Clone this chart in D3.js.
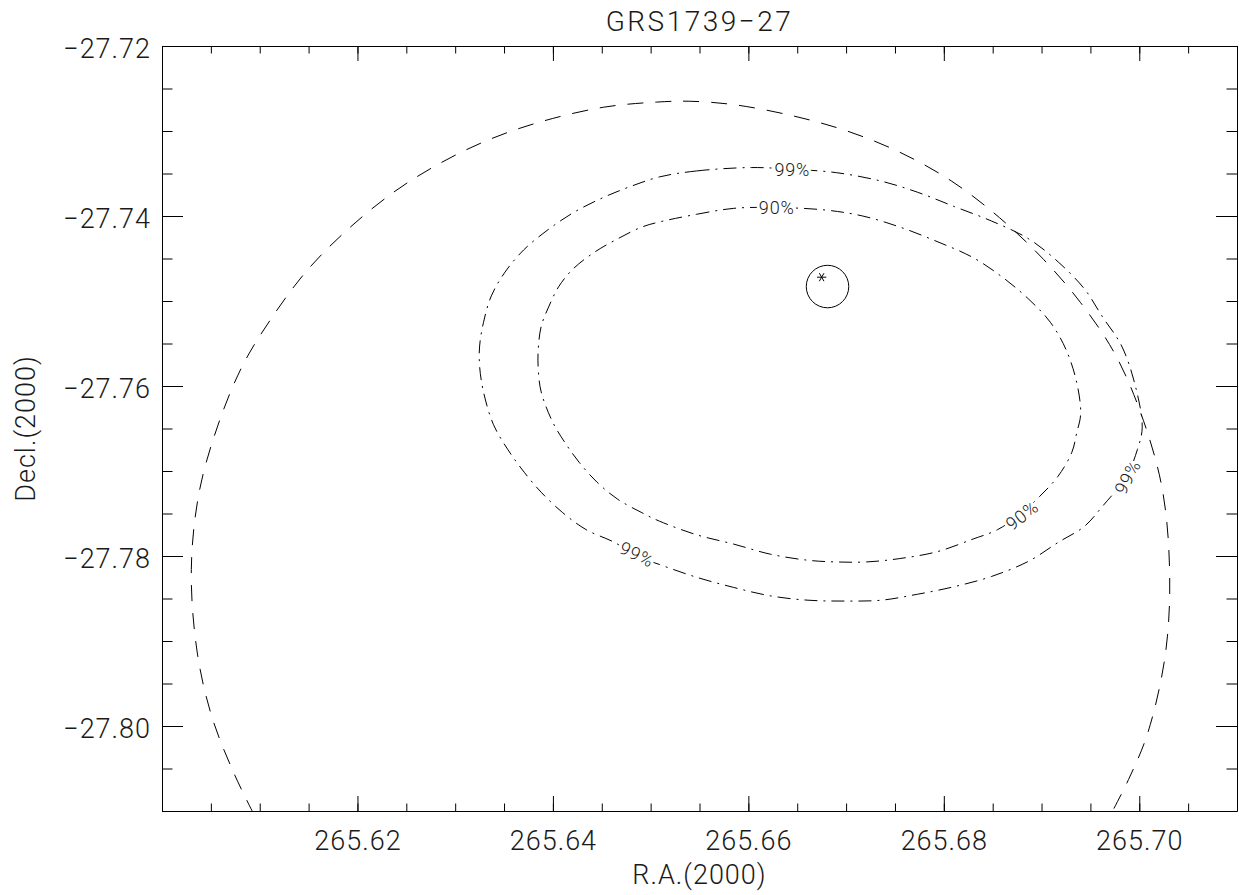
<!DOCTYPE html>
<html>
<head>
<meta charset="utf-8">
<script src="https://cdn.jsdelivr.net/npm/d3@7"></script>
<style>
  body { margin: 0; background: #fff; }
  text { font-family: Roboto, "DejaVu Sans", sans-serif; font-weight: 300; fill: #1a1a1a; }
  .big { font-size: 27px; letter-spacing: 1px; }
  .title { font-size: 28px; letter-spacing: 2.5px; }
  .clab { font-size: 18px; letter-spacing: 0.8px; }
</style>
</head>
<body>
<div id="graph"></div>
<script>
// tick labels
var raTicks = [265.62, 265.64, 265.66, 265.68, 265.70];
var decTicks = [-27.72, -27.74, -27.76, -27.78, -27.80];

// error region (dashed)
var errRA = [265.6094, 265.6073, 265.6051, 265.6036, 265.6030, 265.6038, 265.6057, 265.6082, 265.6111, 265.6147,
             265.6187, 265.6237, 265.6286, 265.6335, 265.6388, 265.6452, 265.6506, 265.6540, 265.6585, 265.6645,
             265.6701, 265.6755, 265.6808, 265.6857, 265.6902, 265.6940, 265.6974, 265.7000, 265.7023, 265.7031,
             265.7027, 265.7009, 265.6989, 265.6968];
var errDec = [-27.8104, -27.8054, -27.7989, -27.7913, -27.7816, -27.7725, -27.7647, -27.7577, -27.7522, -27.7466,
              -27.7419, -27.7372, -27.7337, -27.7310, -27.7289, -27.7272, -27.7266, -27.7265, -27.7269, -27.7282,
              -27.7300, -27.7325, -27.7359, -27.7402, -27.7451, -27.7502, -27.7560, -27.7627, -27.7718, -27.7816,
              -27.7913, -27.8007, -27.8063, -27.8110];

// 99% contour
var c99RA = [265.6509, 265.6547, 265.6603, 265.6645, 265.6690, 265.6736, 265.6773, 265.6811, 265.6849, 265.6887,
             265.6917, 265.6944, 265.6962, 265.6982, 265.6996, 265.7003, 265.6998, 265.6987, 265.6962, 265.6944,
             265.6917, 265.6887, 265.6849, 265.6811, 265.6773, 265.6736, 265.6698, 265.6661, 265.6623, 265.6585,
             265.6547, 265.6509, 265.6486, 265.6463, 265.6434, 265.6410, 265.6388, 265.6371, 265.6354, 265.6339,
             265.6329, 265.6325, 265.6325, 265.6329, 265.6337, 265.6351, 265.6370, 265.6394, 265.6421, 265.6452,
             265.6480];
var c99Dec = [-27.7354, -27.7347, -27.7343, -27.7345, -27.7349, -27.7359, -27.7372, -27.7389, -27.7406, -27.7427,
              -27.7454, -27.7486, -27.7518, -27.7553, -27.7600, -27.7649, -27.7675, -27.7706, -27.7742, -27.7765,
              -27.7784, -27.7806, -27.7824, -27.7836, -27.7845, -27.7852, -27.7853, -27.7852, -27.7847, -27.7837,
              -27.7825, -27.7810, -27.7800, -27.7784, -27.7769, -27.7749, -27.7725, -27.7702, -27.7675, -27.7645,
              -27.7607, -27.7577, -27.7553, -27.7525, -27.7494, -27.7466, -27.7440, -27.7417, -27.7396, -27.7378,
              -27.7365];

// 90% contour
var c90RA = [265.6509, 265.6547, 265.6585, 265.6628, 265.6679, 265.6717, 265.6755, 265.6793, 265.6830, 265.6860,
             265.6887, 265.6909, 265.6925, 265.6936, 265.6940, 265.6936, 265.6931, 265.6917, 265.6898, 265.6878,
             265.6855, 265.6830, 265.6793, 265.6755, 265.6721, 265.6690, 265.6661, 265.6623, 265.6585, 265.6547,
             265.6509, 265.6491, 265.6466, 265.6445, 265.6427, 265.6412, 265.6400, 265.6388, 265.6385, 265.6385,
             265.6388, 265.6396, 265.6406, 265.6420, 265.6442, 265.6466, 265.6491];
var c90Dec = [-27.7407, -27.7398, -27.7391, -27.7390, -27.7393, -27.7400, -27.7413, -27.7430, -27.7449, -27.7472,
              -27.7498, -27.7525, -27.7557, -27.7596, -27.7633, -27.7655, -27.7678, -27.7706, -27.7730, -27.7751,
              -27.7769, -27.7780, -27.7795, -27.7803, -27.7807, -27.7807, -27.7805, -27.7798, -27.7786, -27.7775,
              -27.7759, -27.7749, -27.7733, -27.7713, -27.7690, -27.7666, -27.7643, -27.7607, -27.7580, -27.7557,
              -27.7530, -27.7506, -27.7483, -27.7463, -27.7443, -27.7427, -27.7413];

// contour labels
var labelText = ["99%", "90%", "99%", "90%", "99%"];
var labelRA = [265.6645, 265.6629, 265.6486, 265.6880, 265.6988];
var labelDec = [-27.7345, -27.7390, -27.7798, -27.7752, -27.7707];
var labelAngle = [0, 0, 26, -38, -62];

// source position: circle and asterisk
var srcRA = [265.6681];
var srcDec = [-27.7483];
var srcRadius = [0.0025];
var starRA = [265.6675];
var starDec = [-27.7472];

//Display specifications
const margin = {top: 46, left: 162};
const width = 1075;
const height = 765;

var x = d3.scaleLinear().domain([265.60, 265.71]).range([0, width]);
var y = d3.scaleLinear().domain([-27.72, -27.81]).range([0, height]);

var svg = d3.select("div#graph").append("svg")
    .attr("width", 1239)
    .attr("height", 895);

var container = svg.append("g")
    .attr("transform", "translate(" + margin.left + "," + margin.top + ")");

svg.append("defs").append("clipPath").attr("id", "plotclip")
    .append("rect").attr("width", width).attr("height", height);

//Title
svg.append("text")
    .attr("class", "title")
    .attr("x", margin.left + width / 2)
    .attr("y", 31)
    .attr("text-anchor", "middle")
    .text("GRS1739\u221227");

var fmt = d3.format(".2f");

//X axis (bottom) + minor ticks
var xAxis = container.append("g")
    .attr("transform", "translate(0," + height + ")")
    .call(d3.axisBottom(x).tickValues(raTicks).tickFormat(fmt).tickSizeInner(-15).tickSizeOuter(0).tickPadding(20));
xAxis.selectAll("text").attr("class", "big");
container.append("g")
    .attr("transform", "translate(0," + height + ")")
    .call(d3.axisBottom(x).tickValues(x.ticks(22)).tickFormat("").tickSizeInner(-7.5).tickSizeOuter(0))
    .select(".domain").remove();

//X axis (top)
container.append("g")
    .call(d3.axisTop(x).tickValues(raTicks).tickFormat("").tickSizeInner(-15).tickSizeOuter(0));
container.append("g")
    .call(d3.axisTop(x).tickValues(x.ticks(22)).tickFormat("").tickSizeInner(-7.5).tickSizeOuter(0))
    .select(".domain").remove();

//Y axis (left)
var yAxis = container.append("g")
    .call(d3.axisLeft(y).tickValues(decTicks).tickFormat(fmt).tickSizeInner(-21).tickSizeOuter(0).tickPadding(11));
yAxis.selectAll("text").attr("class", "big").attr("dy", "0.43em");
container.append("g")
    .call(d3.axisLeft(y).tickValues(y.ticks(18)).tickFormat("").tickSizeInner(-10.5).tickSizeOuter(0))
    .select(".domain").remove();

//Y axis (right)
container.append("g")
    .attr("transform", "translate(" + width + ",0)")
    .call(d3.axisRight(y).tickValues(decTicks).tickFormat("").tickSizeInner(-21).tickSizeOuter(0));
container.append("g")
    .attr("transform", "translate(" + width + ",0)")
    .call(d3.axisRight(y).tickValues(y.ticks(18)).tickFormat("").tickSizeInner(-10.5).tickSizeOuter(0))
    .select(".domain").remove();

//Axis labels
svg.append("text")
    .attr("class", "big")
    .attr("x", margin.left + width / 2)
    .attr("y", 884)
    .attr("text-anchor", "middle")
    .text("R.A.(2000)");

svg.append("text")
    .attr("class", "big")
    .attr("transform", "translate(35," + (margin.top + height / 2) + ") rotate(-90)")
    .attr("text-anchor", "middle")
    .text("Decl.(2000)");

//Curves
var plot = container.append("g").attr("clip-path", "url(#plotclip)");

var openLine = d3.line().x(d => x(d[0])).y(d => y(d[1])).curve(d3.curveCatmullRom);
var closedLine = d3.line().x(d => x(d[0])).y(d => y(d[1])).curve(d3.curveCatmullRomClosed);

plot.append("path")
    .attr("d", openLine(d3.zip(errRA, errDec)))
    .attr("fill", "none")
    .attr("stroke", "#000")
    .attr("stroke-width", 1)
    .attr("stroke-dasharray", "16,12");

plot.append("path")
    .attr("d", closedLine(d3.zip(c99RA, c99Dec)))
    .attr("fill", "none")
    .attr("stroke", "#000")
    .attr("stroke-width", 1)
    .attr("stroke-dasharray", "13,6,2,6");

plot.append("path")
    .attr("d", closedLine(d3.zip(c90RA, c90Dec)))
    .attr("fill", "none")
    .attr("stroke", "#000")
    .attr("stroke-width", 1)
    .attr("stroke-dasharray", "13,6,2,6");

//Contour labels
plot.selectAll(".clab")
    .data(d3.range(labelText.length))
    .enter()
    .append("text")
    .attr("class", "clab")
    .attr("transform", i => "translate(" + x(labelRA[i]) + "," + y(labelDec[i]) + ") rotate(" + labelAngle[i] + ")")
    .attr("text-anchor", "middle")
    .attr("dy", "0.36em")
    .attr("stroke", "#fff")
    .attr("stroke-width", 6)
    .attr("paint-order", "stroke")
    .text(i => labelText[i]);

//Source circle
plot.selectAll(".src")
    .data(d3.range(srcRA.length))
    .enter()
    .append("circle")
    .attr("cx", i => x(srcRA[i]))
    .attr("cy", i => y(srcDec[i]))
    .attr("r", i => y(srcDec[i] - srcRadius[i]) - y(srcDec[i]))
    .attr("fill", "none")
    .attr("stroke", "#000")
    .attr("stroke-width", 1);

var star = d3.symbol().type(d3.symbolAsterisk || d3.symbolCross).size(60);
plot.selectAll(".star")
    .data(d3.range(starRA.length))
    .enter()
    .append("path")
    .attr("transform", i => "translate(" + x(starRA[i]) + "," + y(starDec[i]) + ") rotate(90)")
    .attr("d", star())
    .attr("fill", "none")
    .attr("stroke", "#000")
    .attr("stroke-width", 1);
</script>
</body>
</html>
